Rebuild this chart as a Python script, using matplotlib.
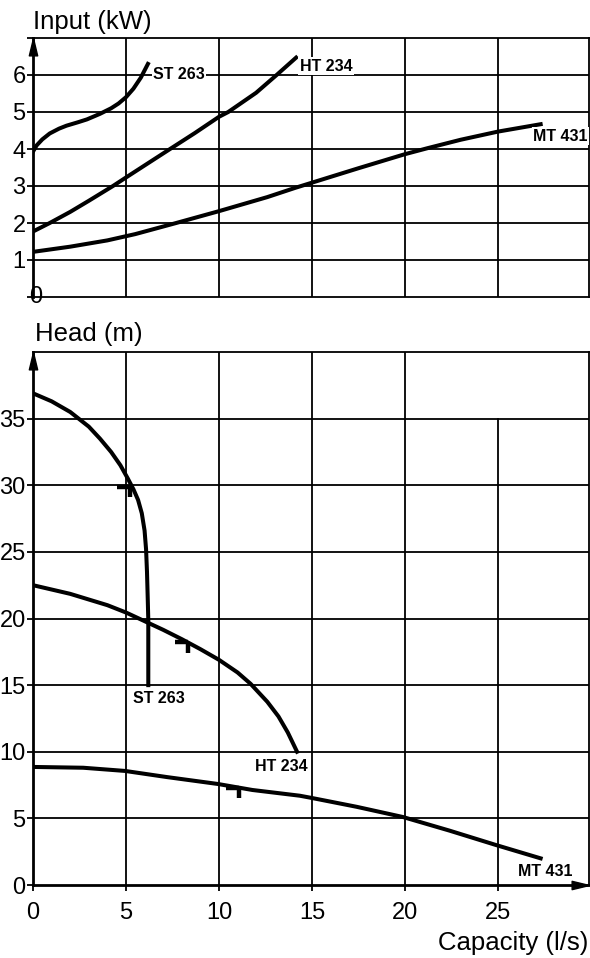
import matplotlib.pyplot as plt
from matplotlib.path import Path

plt.rcParams["font.family"] = ["Liberation Sans", "DejaVu Sans"]

# power input (kW) against capacity (l/s)
st263_in_q = [0, 0.2, 0.5, 0.9, 1.4, 1.8, 2.4, 2.9, 3.6, 4.2, 4.6, 5.0, 5.4, 5.8, 6.18]
st263_in_kw = [3.93, 4.1, 4.26, 4.42, 4.55, 4.63, 4.72, 4.8, 4.95, 5.1, 5.23, 5.4, 5.63, 5.93, 6.3]
ht234_in_q = [0, 0.9, 2.0, 3.0, 4.3, 5.0, 6.2, 7.37, 8.7, 10.0, 10.5, 12.0, 13.1, 14.15]
ht234_in_kw = [1.77, 2.0, 2.3, 2.6, 3.0, 3.23, 3.62, 4.0, 4.43, 4.87, 5.0, 5.52, 6.0, 6.47]
mt431_in_q = [0, 2.0, 4.0, 5.5, 7.7, 10.0, 12.6, 14.1, 15.0, 17.5, 20.0, 21.2, 23.0, 25.0, 27.3]
mt431_in_kw = [1.22, 1.36, 1.53, 1.7, 2.0, 2.32, 2.7, 2.95, 3.09, 3.48, 3.86, 4.02, 4.25, 4.47, 4.67]

# head (m) against capacity (l/s)
st263_head_q = [0, 1.0, 2.0, 3.0, 3.6, 4.2, 4.7, 5.1, 5.4, 5.65, 5.85, 6.0, 6.08, 6.13, 6.17, 6.2, 6.2]
st263_head_m = [36.9, 36.3, 35.5, 34.4, 33.5, 32.5, 31.5, 30.5, 29.7, 28.9, 27.9, 26.6, 25.2, 23.5, 21.5, 19.9, 15.0]
ht234_head_q = [0, 2, 4, 5, 6, 7, 8, 9, 10, 11, 11.7, 12.6, 13.2, 13.7, 14.2]
ht234_head_m = [22.5, 21.85, 21.0, 20.45, 19.8, 19.15, 18.45, 17.7, 16.9, 15.95, 15.1, 13.75, 12.65, 11.45, 10.0]
mt431_head_q = [0, 2.7, 4.95, 7.2, 9.95, 11.8, 14.35, 15.0, 17.4, 19.9, 22.4, 24.9, 27.3]
mt431_head_m = [8.86, 8.8, 8.56, 8.1, 7.58, 7.13, 6.7, 6.53, 5.87, 5.1, 4.08, 3.0, 2.0]

# duty points marked on the head curves
duty_q = [5.2, 8.35, 11.1]
duty_m = [29.9, 18.2, 7.3]

pump_names = ["ST 263", "HT 234", "MT 431"]

x_ticks = [0, 5, 10, 15, 20, 25]
input_ticks = [0, 1, 2, 3, 4, 5, 6, 7]
head_ticks = [0, 5, 10, 15, 20, 25, 30, 35]

LW = 2.9
GRID_LW = 1.3
ARROW_UP = Path([(0, 0), (-0.24, -1), (0.24, -1), (0, 0)],
                [Path.MOVETO, Path.LINETO, Path.LINETO, Path.CLOSEPOLY])
ARROW_RIGHT = Path([(0, 0), (-1, -0.24), (-1, 0.24), (0, 0)],
                   [Path.MOVETO, Path.LINETO, Path.LINETO, Path.CLOSEPOLY])
curve = dict(color="black", lw=LW, zorder=3, solid_joinstyle="round")

fig = plt.figure(figsize=(5.9, 9.58), dpi=100)
ax_in = fig.add_axes([33 / 590, 661 / 958, 556 / 590, 259 / 958])
ax_h = fig.add_axes([33 / 590, 73 / 958, 556 / 590, 533 / 958])


def style_axes(ax, ymax):
    ax.set_xlim(0, 29.9)
    ax.set_ylim(0, ymax)
    for sp in ax.spines.values():
        sp.set_linewidth(GRID_LW)
        sp.set_color("black")
    ax.spines["left"].set_linewidth(2.0)
    ax.tick_params(axis="both", direction="out", length=4.3, width=GRID_LW,
                   labelsize=17, pad=1, colors="black")
    ax.plot([0], [1], marker=ARROW_UP, markersize=25, color="black",
            transform=ax.transAxes, clip_on=False, zorder=6)


# ---- top panel: input power ----
style_axes(ax_in, 7)
for y in input_ticks[1:-1]:
    ax_in.axhline(y, color="black", lw=GRID_LW, zorder=1)
for x in x_ticks[1:]:
    ax_in.axvline(x, color="black", lw=GRID_LW, zorder=1)
ax_in.set_xticks([])
ax_in.set_yticks(input_ticks)
ax_in.set_yticklabels([""] + [str(v) for v in input_ticks[1:-1]] + [""])
ax_in.text(0.16, 0, "0", fontsize=17, ha="center", va="center", zorder=5)

ax_in.plot(st263_in_q, st263_in_kw, **curve)
ax_in.plot(ht234_in_q, ht234_in_kw, **curve)
ax_in.plot(mt431_in_q, mt431_in_kw, **curve)

lbl = dict(fontsize=11.5, fontweight="bold", zorder=4,
           bbox=dict(facecolor="white", edgecolor="none", pad=1))
ax_in.text(6.45, 6.0, pump_names[0], ha="left", va="center", **lbl)
ax_in.text(14.35, 6.03, pump_names[1], ha="left", va="bottom", **lbl)
ax_in.text(26.9, 4.34, pump_names[2], ha="left", va="center", **lbl)

# ---- bottom panel: head ----
style_axes(ax_h, 40)
for y in head_ticks[1:]:
    ax_h.axhline(y, color="black", lw=GRID_LW, zorder=1)
for x in x_ticks[1:]:
    top = 35 if x == 25 else 40
    ax_h.plot([x, x], [0, top], color="black", lw=GRID_LW, zorder=1)
ax_h.set_xticks(x_ticks)
ax_h.set_yticks(head_ticks)
ax_h.tick_params(axis="x", length=4, pad=8)
ax_h.spines["bottom"].set_linewidth(2.0)
ax_h.plot([1], [0], marker=ARROW_RIGHT, markersize=25, color="black",
          transform=ax_h.transAxes, clip_on=False, zorder=6)

ax_h.plot(st263_head_q, st263_head_m, **curve)
ax_h.plot(ht234_head_q, ht234_head_m, **curve)
ax_h.plot(mt431_head_q, mt431_head_m, **curve)

for q, m in zip(duty_q, duty_m):
    ax_h.plot([q - 0.7, q], [m, m], color="black", lw=3.2, zorder=3,
              solid_capstyle="butt")
    ax_h.plot([q, q], [m, m - 0.8], color="black", lw=3.2, zorder=3,
              solid_capstyle="butt")

lbl2 = dict(fontsize=11.5, fontweight="bold", zorder=4)
ax_h.text(5.38, 13.96, pump_names[0], ha="left", va="center", **lbl2)
ax_h.text(11.94, 8.93, pump_names[1], ha="left", va="center", **lbl2)
ax_h.text(26.07, 1.05, pump_names[2], ha="left", va="center", **lbl2)

# axis titles
fig.text(33 / 590, 1 - 22 / 958, "Input (kW)", fontsize=18.5, ha="left", va="center")
fig.text(35 / 590, 1 - 334 / 958, "Head (m)", fontsize=18.5, ha="left", va="center")
fig.text(588 / 590, 1 - 943 / 958, "Capacity (l/s)", fontsize=18.5, ha="right", va="center")

fig.savefig("out.png", dpi=100, facecolor="white")
